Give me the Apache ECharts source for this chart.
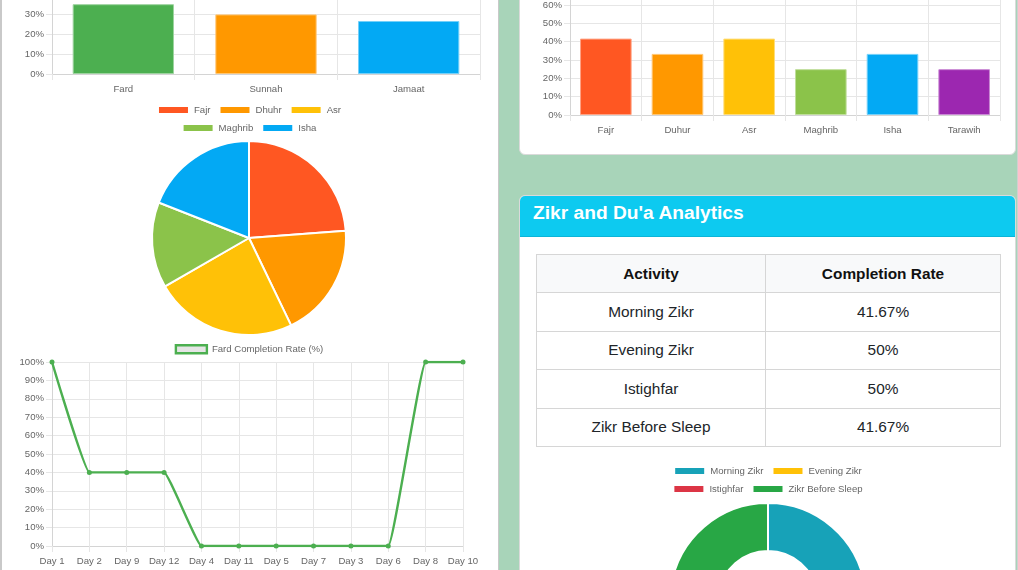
<!DOCTYPE html>
<html><head><meta charset="utf-8">
<script src="https://cdn.jsdelivr.net/npm/echarts@6/dist/echarts.min.js"></script>
<style>
html,body{margin:0;padding:0;width:1018px;height:570px;overflow:hidden;background:#a8d4b9;font-family:"Liberation Sans",Arial,Helvetica,sans-serif;}
#leftPanel{position:absolute;left:0;top:0;width:496px;height:570px;background:#fff;border-left:2px solid #c9c9c9;border-right:1px solid #c9c9c9;}
#leftChart{position:absolute;left:0;top:-200px;width:498px;height:770px;}
#card1{position:absolute;left:519px;top:-60px;width:495px;height:213px;background:#fff;border:1px solid #dadada;border-radius:6px;}
#rightChart{position:absolute;left:519px;top:-100px;width:497px;height:255px;}
#card2{position:absolute;left:519px;top:195px;width:495px;height:420px;background:#fff;border:1px solid #dadada;border-radius:6px;overflow:hidden;}
#card2 .hdr{position:absolute;left:0;top:0;width:100%;height:40px;background:#0dcaf0;border-bottom:1px solid #0bb5d8;}
#card2 .hdr span{position:absolute;left:13px;top:5px;color:#fff;font-weight:bold;font-size:19.2px;line-height:23px;white-space:nowrap;}
#zikrTable{position:absolute;left:16px;top:58px;width:464px;border-collapse:collapse;table-layout:fixed;font-size:15.4px;color:#212529;}
#zikrTable td,#zikrTable th{border:1px solid #d6d6d6;text-align:center;vertical-align:middle;padding:0;}
#zikrTable th{background:#f8f9fa;font-weight:bold;color:#111;}
#zikrTable tr.h{height:38px;}
#zikrTable tr.r{height:38.5px;}
#zikrChart{position:absolute;left:519px;top:450px;width:497px;height:300px;}
#edge{position:absolute;left:1017px;top:0;width:1px;height:570px;background:#cfcfcf;}
</style></head>
<body>
<div id="leftPanel"></div>
<div id="leftChart"></div>
<div id="card1"></div>
<div id="rightChart"></div>
<div id="card2">
  <div class="hdr"><span>Zikr and Du'a Analytics</span></div>
  <table id="zikrTable">
    <colgroup><col style="width:229px"><col style="width:235px"></colgroup>
    <thead><tr class="h"><th>Activity</th><th>Completion Rate</th></tr></thead>
    <tbody id="zikrBody"></tbody>
  </table>
</div>
<div id="zikrChart"></div>
<div id="edge"></div>
<script>
// ---------- data ----------
const prayerTypeNames = ['Fard', 'Sunnah', 'Jamaat'];
const prayerTypeRates = [34.9, 29.8, 26.5];
const prayerTypeColors = ['#4caf50', '#ff9800', '#03a9f4'];

const pieNames = ['Fajr', 'Dhuhr', 'Asr', 'Maghrib', 'Isha'];
const pieValues = [41.67, 33.33, 41.67, 25, 33.33];
const pieColors = ['#ff5722', '#ff9800', '#ffc107', '#8bc34a', '#03a9f4'];

const dayLabels = ['Day 1', 'Day 2', 'Day 9', 'Day 12', 'Day 4', 'Day 11', 'Day 5', 'Day 7', 'Day 3', 'Day 6', 'Day 8', 'Day 10'];
const fardRates = [100, 40, 40, 40, 0, 0, 0, 0, 0, 0, 100, 100];
const lineName = 'Fard Completion Rate (%)';

const salahNames = ['Fajr', 'Duhur', 'Asr', 'Maghrib', 'Isha', 'Tarawih'];
const salahRates = [41.67, 33.33, 41.67, 25, 33.33, 25];
const salahColors = ['#ff5722', '#ff9800', '#ffc107', '#8bc34a', '#03a9f4', '#9c27b0'];

const zikrNames = ['Morning Zikr', 'Evening Zikr', 'Istighfar', 'Zikr Before Sleep'];
const zikrRates = [41.67, 50, 50, 41.67];
const zikrRateLabels = ['41.67%', '50%', '50%', '41.67%'];
const zikrColors = ['#17a2b8', '#ffc107', '#dc3545', '#28a745'];

// ---------- table ----------
const tb = document.getElementById('zikrBody');
zikrNames.forEach((n, i) => {
  const tr = document.createElement('tr'); tr.className = 'r';
  const a = document.createElement('td'); a.textContent = n;
  const b = document.createElement('td'); b.textContent = zikrRateLabels[i];
  tr.appendChild(a); tr.appendChild(b); tb.appendChild(tr);
});

// ---------- helpers ----------
const FONT = '"Liberation Sans", Arial, Helvetica, sans-serif';
const TXT = '#666';
const GRIDC = '#e6e6e6';
const AXISC = '#d4d4d4';
function lighten(hex, f) {
  const n = parseInt(hex.slice(1), 16);
  let r = n >> 16, g = (n >> 8) & 255, b = n & 255;
  r = Math.round(r + (255 - r) * f); g = Math.round(g + (255 - g) * f); b = Math.round(b + (255 - b) * f);
  return 'rgb(' + r + ',' + g + ',' + b + ')';
}
function catAxis(gi, data, boundary) {
  return {
    type: 'category', gridIndex: gi, data: data, boundaryGap: boundary,
    axisLine: { show: true, lineStyle: { color: AXISC } },
    axisTick: { show: true, length: 6, lineStyle: { color: GRIDC } },
    splitLine: { show: true, lineStyle: { color: GRIDC } },
    axisLabel: { color: TXT, fontSize: 9.6, fontFamily: FONT, margin: 10, interval: 0 }
  };
}
function valAxis(gi) {
  return {
    type: 'value', gridIndex: gi, min: 0, max: 100, interval: 10,
    axisLine: { show: true, lineStyle: { color: AXISC } },
    axisTick: { show: true, length: 6, lineStyle: { color: GRIDC } },
    splitLine: { show: true, lineStyle: { color: GRIDC } },
    axisLabel: { formatter: '{value}%', color: TXT, fontSize: 9.6, fontFamily: FONT, margin: 8 }
  };
}
const legendBase = {
  orient: 'horizontal', left: 'center', itemWidth: 31, itemHeight: 8, itemGap: 8, padding: 0,
  icon: 'rect', selectedMode: false,
  textStyle: { color: TXT, fontSize: 9.6, fontFamily: FONT, padding: [0, 0, 0, 0] }
};
function legend(top, data, extra) { return Object.assign({}, legendBase, { top: top, data: data }, extra || {}); }
function barData(vals, cols) {
  return vals.map((v, i) => ({ value: v, itemStyle: { color: cols[i], borderColor: lighten(cols[i], 0.45), borderWidth: 1 } }));
}

// ---------- left panel ----------
const left = echarts.init(document.getElementById('leftChart'), null, { renderer: 'canvas' });
left.setOption({
  animation: false,
  textStyle: { fontFamily: FONT },
  grid: [
    { left: 52, top: 74, width: 428, height: 200, containLabel: false, outerBoundsMode: 'none' },
    { left: 52, top: 562, width: 411, height: 184, containLabel: false, outerBoundsMode: 'none' }
  ],
  xAxis: [catAxis(0, prayerTypeNames, true), catAxis(1, dayLabels, false)],
  yAxis: [valAxis(0), valAxis(1)],
  legend: [
    legend(305, pieNames.slice(0, 3)),
    legend(323, pieNames.slice(3)),
    legend(544, [{ name: lineName, icon: 'rect', itemStyle: { color: 'rgba(0,0,0,0.1)', borderColor: '#4caf50', borderWidth: 2.4 } }], { itemWidth: 31, itemHeight: 8 })
  ],
  series: [
    { type: 'bar', xAxisIndex: 0, yAxisIndex: 0, barWidth: '71%', silent: true, data: barData(prayerTypeRates, prayerTypeColors) },
    {
      type: 'pie', center: [249, 438], radius: [0, 97], startAngle: 90, silent: true,
      label: { show: false }, labelLine: { show: false },
      itemStyle: { borderColor: '#fff', borderWidth: 2 },
      data: pieNames.map((n, i) => ({ name: n, value: pieValues[i], itemStyle: { color: pieColors[i] } }))
    },
    {
      type: 'line', name: lineName, xAxisIndex: 1, yAxisIndex: 1, data: fardRates, smooth: 0.08, silent: true,
      symbol: 'circle', symbolSize: 5, showSymbol: true,
      lineStyle: { color: '#4caf50', width: 2.4 }, itemStyle: { color: '#4caf50' }
    }
  ]
});

// ---------- right top card ----------
const right = echarts.init(document.getElementById('rightChart'));
right.setOption({
  animation: false,
  grid: { left: 51, top: 31.67, width: 430, height: 183.33, containLabel: false, outerBoundsMode: 'none' },
  xAxis: catAxis(0, salahNames, true),
  yAxis: valAxis(0),
  series: [{ type: 'bar', barWidth: '72%', silent: true, data: barData(salahRates, salahColors) }]
});

// ---------- zikr doughnut ----------
const zk = echarts.init(document.getElementById('zikrChart'));
zk.setOption({
  animation: false,
  legend: [legend(16, zikrNames.slice(0, 2)), legend(34, zikrNames.slice(2))],
  series: [{
    type: 'pie', center: [249, 151], radius: [50, 98], startAngle: 90, silent: true,
    label: { show: false }, labelLine: { show: false },
    itemStyle: { borderColor: '#fff', borderWidth: 2 },
    data: zikrNames.map((n, i) => ({ name: n, value: zikrRates[i], itemStyle: { color: zikrColors[i] } }))
  }]
});
</script>
</body></html>
